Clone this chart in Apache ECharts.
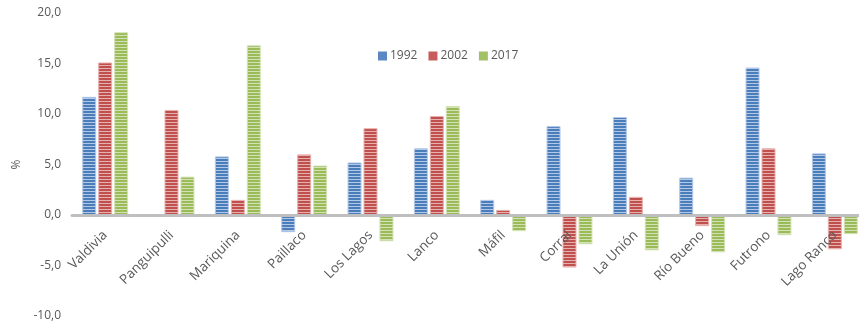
<!DOCTYPE html>
<html>
<head>
<meta charset="utf-8">
<script src="https://cdn.jsdelivr.net/npm/echarts@6/dist/echarts.min.js"></script>
<style>
  html, body { margin: 0; padding: 0; background: #ffffff; overflow: hidden; }
  /* canvas runs a little past the right edge so the last group is cut off */
  #chart { width: 868px; height: 322px; }
</style>
</head>
<body>
<div id="chart"></div>
<script>
// Comunas de la Región de Los Ríos
const categories = ['Valdivia', 'Panguipulli', 'Mariquina', 'Paillaco', 'Los Lagos', 'Lanco',
  'Máfil', 'Corral', 'La Unión', 'Río Bueno', 'Futrono', 'Lago Ranco'];

// Variación porcentual por año censal
const years = ['1992', '2002', '2017'];
const values1992 = [11.7, 0, 5.8, -1.7, 5.2, 6.6, 1.5, 8.8, 9.7, 3.7, 14.6, 6.1];
const values2002 = [15.1, 10.4, 1.5, 6.0, 8.6, 9.8, 0.5, -5.2, 1.8, -1.1, 6.6, -3.4];
const values2017 = [18.1, 3.8, 16.8, 4.9, -2.6, 10.8, -1.6, -2.9, -3.5, -3.7, -2.0, -1.9];

const yTicks = [-10, -5, 0, 5, 10, 15, 20];

// Horizontal stripe fill for each series
function stripes(dark, light) {
  const c = document.createElement('canvas');
  c.width = 4; c.height = 3;
  const ctx = c.getContext('2d');
  ctx.fillStyle = dark;
  ctx.fillRect(0, 0, 4, 2);
  ctx.fillStyle = light;
  ctx.fillRect(0, 2, 4, 1);
  return { image: c, repeat: 'repeat' };
}

const palette = [
  { dark: '#4a7ebb', light: '#b3c8e6', solid: '#5b87c2' },
  { dark: '#c0504d', light: '#e6b0ae', solid: '#c55e5b' },
  { dark: '#9bbb59', light: '#d3e2b6', solid: '#a3c166' }
];

const seriesData = [values1992, values2002, values2017];

const fmt = v => v.toFixed(1).replace('.', ',');

// Plot box (px)
const GRID_LEFT = 72, GRID_RIGHT = 0, GRID_TOP = 13, GRID_BOTTOM = 6, CHART_H = 322;
const plotH = CHART_H - GRID_TOP - GRID_BOTTOM;
// Offset that lifts the category labels up to the zero line
const zeroLift = -plotH * (0 - yTicks[0]) / (yTicks[yTicks.length - 1] - yTicks[0]);

const chart = echarts.init(document.getElementById('chart'), null, { renderer: 'canvas' });

chart.setOption({
  animation: false,
  backgroundColor: '#ffffff',
  textStyle: { fontFamily: 'Open Sans' },
  legend: {
    top: 45,
    left: 373,
    itemWidth: 9,
    itemHeight: 9,
    itemGap: 11,
    icon: 'rect',
    textStyle: { color: '#595959', fontSize: 12, fontFamily: 'Open Sans', padding: [0, 0, 0, -2] },
    data: years.map((y, i) => ({ name: y, itemStyle: { color: palette[i].solid, borderWidth: 0 } }))
  },
  grid: {
    left: GRID_LEFT,
    right: GRID_RIGHT,
    top: GRID_TOP,
    bottom: GRID_BOTTOM,
    containLabel: false,
    outerBoundsMode: 'none'
  },
  xAxis: [
    {
      // category names, sitting just under the zero line
      type: 'category',
      data: categories,
      offset: zeroLift,
      z: 5,
      axisLine: { show: false, onZero: false },
      axisTick: { show: false },
      axisLabel: {
        rotate: 45,
        interval: 0,
        margin: 18,
        color: '#595959',
        fontSize: 13.5,
        fontFamily: 'Open Sans'
      },
      splitLine: { show: false }
    },
    {
      // zero baseline
      type: 'category',
      data: categories,
      position: 'bottom',
      z: 4,
      axisLine: { show: true, onZero: true, lineStyle: { color: '#bfbfbf', width: 3 } },
      axisTick: { show: false },
      axisLabel: { show: false },
      splitLine: { show: false }
    }
  ],
  yAxis: {
    type: 'value',
    min: yTicks[0],
    max: yTicks[yTicks.length - 1],
    interval: 5,
    name: '%',
    nameLocation: 'middle',
    nameGap: 45,
    nameTextStyle: { color: '#595959', fontSize: 12, fontFamily: 'Open Sans' },
    axisLine: { show: false },
    axisTick: { show: false },
    splitLine: { show: false },
    axisLabel: {
      margin: 11,
      color: '#595959',
      fontSize: 12,
      fontFamily: 'Open Sans',
      formatter: v => fmt(v)
    }
  },
  series: years.map((y, i) => ({
    name: y,
    type: 'bar',
    xAxisIndex: 0,
    data: seriesData[i],
    barWidth: 14,
    barGap: '14%',
    z: 2,
    itemStyle: {
      color: stripes(palette[i].dark, palette[i].light),
      borderColor: palette[i].light,
      borderWidth: 1
    }
  }))
});
</script>
</body>
</html>
